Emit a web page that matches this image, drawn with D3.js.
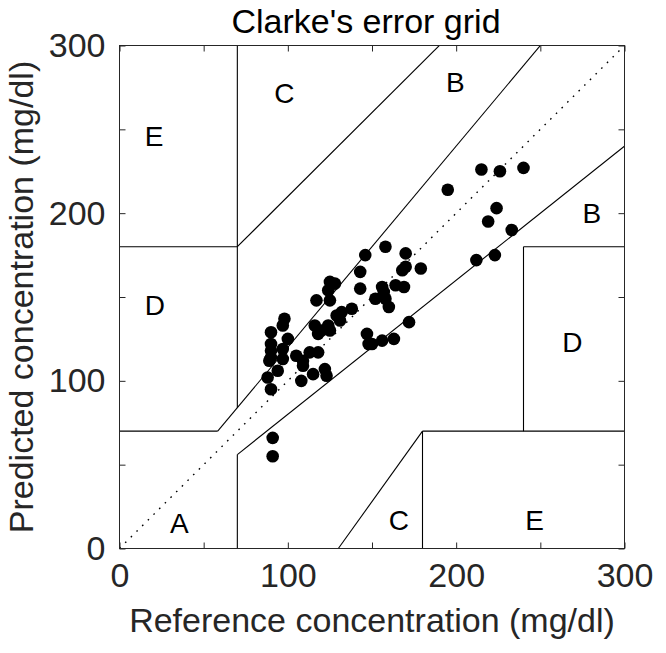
<!DOCTYPE html>
<html>
<head>
<meta charset="utf-8">
<script src="https://cdn.jsdelivr.net/npm/d3@7"></script>
<style>
    body { margin: 0; background: #fff; }
    text { font-family: "Liberation Sans", Arial, sans-serif; fill: #262626; }
</style>
</head>
<body>
<div id="chart"></div>
<script>
// reference vs predicted glucose (mg/dl)
var refValues = [195, 215, 226, 240, 224, 219, 233, 212, 223,
    146, 158, 170, 179, 168, 170, 143, 143, 164, 169, 156, 157, 152, 158, 160,
    125, 128, 124, 117, 125, 138, 132, 129, 131, 116, 124, 120, 125, 118,
    172, 147, 148, 150, 156, 163,
    98, 97, 90, 100, 90, 97, 90, 90, 89, 97, 105, 113, 118, 109, 109, 94, 88,
    115, 122, 123, 108, 90, 91, 91];
var predValues = [214, 226, 225, 227, 203, 195, 190, 172, 175,
    175, 180, 176, 167, 166, 168, 165, 155, 157, 156, 156, 153, 149, 149, 144,
    159, 158, 154, 148, 148, 143, 141, 139, 136, 133, 133, 130, 130, 128,
    135, 128, 122, 122, 124, 125,
    137, 133, 129, 125, 122, 119, 118, 114, 112, 113, 115, 117, 117, 112, 109, 106, 102,
    104, 107, 103, 100, 95, 66, 55];

// zone boundaries [x1, y1, x2, y2] in mg/dl
var zoneLines = [
    [0, 70, 175 / 3, 70],
    [175 / 3, 70, 400 / 1.2, 400],
    [70, 84, 70, 400],
    [0, 180, 70, 180],
    [70, 180, 290, 400],
    [70, 0, 70, 56],
    [70, 56, 400, 320],
    [180, 0, 180, 70],
    [180, 70, 400, 70],
    [240, 70, 240, 180],
    [240, 180, 400, 180],
    [130, 0, 180, 70]
];
var zoneNames = ["A", "D", "E", "C", "B", "B", "D", "C", "E"];
var zoneX = [30, 15, 15, 92, 194, 275, 263, 160, 241];
var zoneY = [15, 145, 246, 272, 278, 200, 123, 17, 17];

var axisTicks = [0, 50, 100, 150, 200, 250, 300];
var axisLabels = [0, 100, 200, 300];

var width = 666, height = 653;
var plotLeft = 119.5, plotRight = 624.5, plotTop = 45.5, plotBottom = 548.5;

var svg = d3.select("#chart").append("svg")
    .attr("width", width)
    .attr("height", height);

var x = d3.scaleLinear().domain([0, 300]).range([plotLeft, plotRight]);
var y = d3.scaleLinear().domain([0, 300]).range([plotBottom, plotTop]);

svg.append("clipPath").attr("id", "plotClip")
    .append("rect")
    .attr("x", plotLeft).attr("y", plotTop)
    .attr("width", plotRight - plotLeft).attr("height", plotBottom - plotTop);

var plot = svg.append("g").attr("clip-path", "url(#plotClip)");

// identity line
plot.append("line")
    .attr("x1", x(0)).attr("y1", y(0))
    .attr("x2", x(300)).attr("y2", y(300))
    .attr("stroke", "#000")
    .attr("stroke-width", 1.4)
    .attr("stroke-dasharray", "1.6,6.4");

plot.selectAll(".zone")
    .data(zoneLines)
    .enter().append("line")
    .attr("class", "zone")
    .attr("x1", function (d) { return x(d[0]); })
    .attr("y1", function (d) { return y(d[1]); })
    .attr("x2", function (d) { return x(d[2]); })
    .attr("y2", function (d) { return y(d[3]); })
    .attr("stroke", "#000")
    .attr("stroke-width", 1.1);

plot.selectAll(".pt")
    .data(refValues)
    .enter().append("circle")
    .attr("class", "pt")
    .attr("cx", function (d) { return x(d); })
    .attr("cy", function (d, i) { return y(predValues[i]); })
    .attr("r", 6.3)
    .attr("fill", "#000");

svg.selectAll(".zlabel")
    .data(zoneNames)
    .enter().append("text")
    .attr("class", "zlabel")
    .attr("x", function (d, i) { return x(zoneX[i]); })
    .attr("y", function (d, i) { return y(zoneY[i]); })
    .attr("dy", "0.36em")
    .style("font-size", "28px")
    .style("fill", "#000")
    .text(function (d) { return d; });

// axes: inward ticks on all four sides, box on
function styleAxis(g) {
    g.select(".domain").remove();
    g.selectAll(".tick line").attr("stroke", "#262626");
    g.selectAll(".tick text").style("font-size", "34px").style("fill", "#262626");
}

svg.append("g")
    .attr("transform", "translate(0," + plotBottom + ")")
    .call(d3.axisBottom(x).tickValues(axisTicks).tickSizeInner(-6).tickPadding(14)
        .tickFormat(function (d) { return axisLabels.indexOf(d) >= 0 ? d : ""; }))
    .call(styleAxis);

svg.append("g")
    .attr("transform", "translate(0," + plotTop + ")")
    .call(d3.axisTop(x).tickValues(axisTicks).tickSizeInner(-6).tickFormat(""))
    .call(styleAxis);

svg.append("g")
    .attr("transform", "translate(" + plotLeft + ",0)")
    .call(d3.axisLeft(y).tickValues(axisTicks).tickSizeInner(-6).tickPadding(14)
        .tickFormat(function (d) { return axisLabels.indexOf(d) >= 0 ? d : ""; }))
    .call(styleAxis);

svg.append("g")
    .attr("transform", "translate(" + plotRight + ",0)")
    .call(d3.axisRight(y).tickValues(axisTicks).tickSizeInner(-6).tickFormat(""))
    .call(styleAxis);

svg.append("rect")
    .attr("x", plotLeft).attr("y", plotTop)
    .attr("width", plotRight - plotLeft).attr("height", plotBottom - plotTop)
    .attr("fill", "none")
    .attr("stroke", "#262626")
    .attr("stroke-width", 1);

svg.append("text")
    .attr("x", 366)
    .attr("y", 33)
    .attr("text-anchor", "middle")
    .style("font-size", "34px")
    .style("fill", "#000")
    .text("Clarke's error grid");

svg.append("text")
    .attr("x", (plotLeft + plotRight) / 2)
    .attr("y", 632)
    .attr("text-anchor", "middle")
    .style("font-size", "34px")
    .text("Reference concentration (mg/dl)");

svg.append("text")
    .attr("transform", "translate(33," + (plotTop + plotBottom) / 2 + ") rotate(-90)")
    .attr("text-anchor", "middle")
    .style("font-size", "34px")
    .text("Predicted concentration (mg/dl)");
</script>
</body>
</html>
